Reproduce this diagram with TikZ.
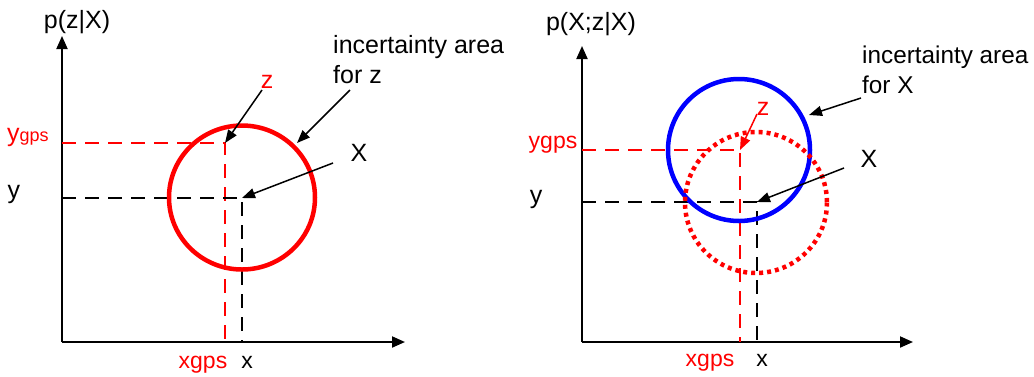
\documentclass[tikz,border=0pt]{standalone}
\usepackage{fontspec}
\setmainfont{Liberation Sans}
\usetikzlibrary{arrows.meta}
\begin{document}
\begin{tikzpicture}[x=1pt,y=-1pt,
  lbl/.style={inner sep=0pt,anchor=base,font=\fontsize{25}{30}\selectfont},
  small/.style={font=\fontsize{23}{27}\selectfont},
  axis/.style={line width=2pt,-{Triangle[length=13pt,width=11pt]}},
  ptr/.style={line width=1.5pt,-{Triangle[length=13pt,width=10pt]}},
  guide/.style={line width=1.5pt,dash pattern=on 14pt off 9pt},
  ring/.style={line width=4.5pt}]
\useasboundingbox (0,0) rectangle (1034,376);
% ---------- left panel ----------
\coordinate (o1) at (62,342);
\coordinate (yt1) at (62,36);
\coordinate (xt1) at (405,342);
\draw[axis] (o1) -- (yt1);
\draw[axis] (o1) -- (xt1);
\coordinate (zp1) at (225,143);
\coordinate (Xp1) at (242,198);
\draw[guide,red] (62,143) -- (zp1) -- (225,342);
\draw[guide,black] (62,198) -- (Xp1) -- (242,342);
\draw[ring,red] (242,197.5) ellipse [x radius=73,y radius=72];
\node[lbl] (py1) at (77,28) {p(z|X)};
\node[lbl,anchor=base west,red] (yg1) at (7,141) {y{\fontsize{18}{20}\selectfont gps}};
\node[lbl] (y1) at (14,198) {y};
\node[lbl,small,red] (xg1) at (203,368) {xgps};
\node[lbl,small] (x1) at (247,368) {x};
\node[lbl,red] (z1) at (267,88) {z};
\node[lbl] (X1) at (359,161) {X};
\node[lbl,anchor=base west] (ia1) at (333,53) {incertainty area};
\node[lbl,anchor=base west] (fz1) at (333,83) {for z};
\coordinate (za1) at (262,90);
\coordinate (ia1s) at (350,90);
\coordinate (ia1e) at (297,143);
\coordinate (Xa1) at (333,163);
\draw[ptr] (za1) -- (zp1);
\draw[ptr] (ia1s) -- (ia1e);
\draw[ptr] (Xa1) -- (Xp1);
% ---------- right panel ----------
\coordinate (o2) at (582,342);
\coordinate (yt2) at (582,46);
\coordinate (xt2) at (913,342);
\draw[axis] (o2) -- (yt2);
\draw[axis] (o2) -- (xt2);
\coordinate (zp2) at (740,150);
\coordinate (Xp2) at (757,202);
\draw[guide,red] (582,150) -- (zp2) -- (740,342);
\draw[guide,black] (582,202) -- (Xp2) -- (757,342);
\draw[ring,blue] (739,150) circle [radius=71];
\draw[red,line width=4.5pt,dash pattern=on 4pt off 4pt] (756,202.5) ellipse [x radius=71,y radius=70.5];
\node[lbl] (py2) at (591,30) {p(X;z|X)};
\node[lbl,small,red] (yg2) at (553,148) {ygps};
\node[lbl] (y2) at (536,203) {y};
\node[lbl,small,red] (xg2) at (710,366) {xgps};
\node[lbl,small] (x2) at (762,366) {x};
\node[lbl,red] (z2) at (763,115) {z};
\node[lbl] (X2) at (869,167) {X};
\node[lbl,anchor=base west,font=\fontsize{24.3}{29}\selectfont] (ia2) at (862,63) {incertainty area};
\node[lbl,anchor=base west,font=\fontsize{24.3}{29}\selectfont] (fx2) at (862,93) {for X};
\coordinate (za2) at (757,114);
\coordinate (ia2s) at (861,98);
\coordinate (ia2e) at (809,115);
\coordinate (Xa2) at (844,168);
\draw[ptr,red] (za2) -- (zp2);
\draw[ptr] (ia2s) -- (ia2e);
\draw[ptr] (Xa2) -- (Xp2);
\end{tikzpicture}
\end{document}
